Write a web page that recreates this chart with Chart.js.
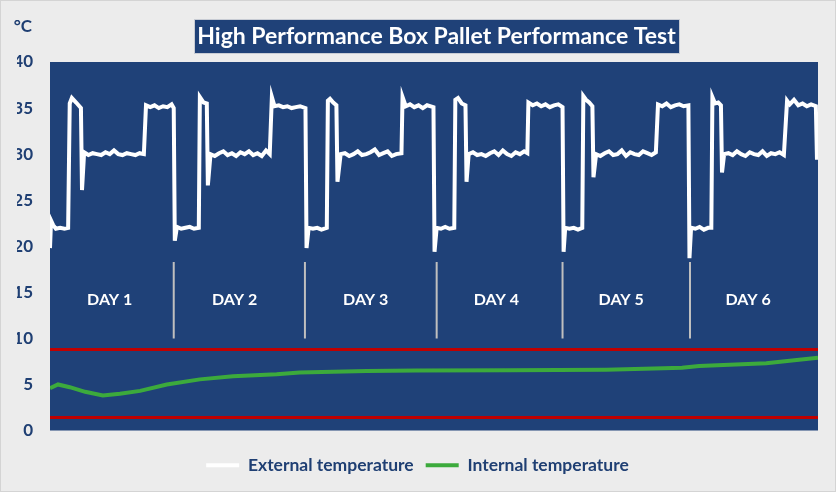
<!DOCTYPE html>
<html>
<head>
<meta charset="utf-8">
<script src="https://cdn.jsdelivr.net/npm/chart.js@4"></script>
<style>
  html, body { margin: 0; padding: 0; background: #ececec; }
  #wrap { position: relative; width: 834px; height: 490px; border: 1px solid #d4d4d4; background: #ececec; }
</style>
</head>
<body>
<div id="wrap"><canvas id="chart"></canvas></div>
<script>
// --- data (x = hours since start, y = °C) ---
const titleText = 'High Performance Box Pallet Performance Test';
const unitLabel = '°C';
const yTicks = [0, 5, 10, 15, 20, 25, 30, 35, 40];

const extHours = [
  0.0, 0.2, 0.6, 1.1, 1.9, 2.7, 3.4, 3.7, 4.1, 4.9, 5.8, 6.0, 6.4,
  7.2, 8.0, 8.8, 9.6, 10.4, 11.2, 12.0, 12.8, 13.6, 14.4, 15.2, 16.0, 16.8, 17.6,
  18.0, 18.8, 19.6, 20.4, 21.2, 22.0, 22.8, 23.2,
  23.4, 23.8, 24.6, 25.4, 26.2, 27.0, 27.9,
  28.1, 28.8, 29.4, 29.6, 30.1,
  30.9, 31.7, 32.5, 33.3, 34.1, 34.9, 35.7, 36.5, 37.3, 38.1, 38.9, 39.7, 40.5, 41.2,
  41.6, 42.1, 42.9, 43.7, 44.5, 45.3, 46.1, 46.9, 47.9,
  48.1, 48.5, 49.3, 50.1, 50.9, 51.9,
  52.1, 52.5, 53.1, 53.7, 53.9, 54.5,
  55.3, 56.1, 56.9, 57.7, 58.5, 59.3, 60.1, 60.9, 61.7, 62.5, 63.3, 64.1, 64.9, 65.9,
  66.1, 66.7, 67.5, 68.3, 69.1, 69.9, 70.7, 71.9,
  72.1, 72.5, 73.3, 74.1, 74.9, 75.8,
  76.0, 76.5, 77.2, 77.9, 78.1, 78.5,
  79.3, 80.1, 80.9, 81.7, 82.5, 83.3, 84.1, 84.9, 85.7, 86.5, 87.3, 88.1, 88.9, 89.5,
  89.7, 90.5, 91.3, 92.1, 92.9, 93.7, 94.5, 95.3, 96.1,
  96.3, 96.6, 97.4, 98.2, 99.0, 99.8,
  100.0, 100.5, 101.1, 101.7, 101.9, 102.4,
  103.2, 104.0, 104.8, 105.6, 106.4, 107.2, 108.0, 108.8, 109.6, 110.4, 111.2, 112.0, 112.8, 113.6,
  114.0, 114.8, 115.6, 116.4, 117.2, 118.0, 118.8, 119.7,
  119.9, 120.2, 121.0, 121.8, 122.6, 123.4, 124.0,
  124.2, 124.7, 125.3, 125.8, 126.0, 126.4,
  127.2, 128.0, 128.8, 129.6, 130.4, 131.2, 132.0, 132.8, 133.6, 134.4, 135.2, 136.0, 136.8, 137.6,
  138.2, 138.7, 139.5, 140.3, 141.1, 141.9, 142.7, 143.6,
  143.8, 144.0
];
const extTemps = [
  19.8, 22.8, 22.3, 21.9, 22.0, 21.9, 22.0, 35.5, 36.1, 35.6, 35.0, 26.1, 30.2,
  29.9, 30.1, 30.0, 29.9, 30.2, 30.0, 30.4, 30.0, 29.9, 30.1, 30.0, 29.9, 30.1, 30.0,
  35.3, 35.1, 35.3, 35.0, 35.2, 35.1, 35.4, 35.0,
  20.6, 22.1, 21.9, 22.0, 22.1, 21.9, 22.0,
  36.2, 35.6, 35.5, 26.6, 30.0,
  29.8, 30.1, 30.3, 29.9, 30.1, 29.8, 30.2, 30.0, 30.3, 29.9, 30.1, 29.8, 30.4, 30.0,
  36.2, 35.2, 35.3, 35.1, 35.2, 35.0, 35.1, 35.2, 35.0,
  19.8, 22.0, 21.9, 22.0, 21.8, 22.0,
  35.8, 36.0, 35.6, 35.3, 27.0, 30.0,
  30.1, 29.8, 30.0, 30.3, 29.9, 30.0, 30.2, 30.5, 29.9, 30.1, 30.3, 29.8, 30.0, 30.1,
  36.2, 35.2, 35.4, 35.1, 35.3, 35.0, 35.3, 35.1,
  19.4, 22.0, 21.9, 22.1, 21.9, 22.0,
  35.9, 36.1, 35.5, 35.3, 27.0, 30.0,
  30.2, 29.9, 30.0, 29.8, 30.1, 30.3, 29.9, 30.4, 30.0, 29.8, 30.2, 30.0, 30.3, 30.1,
  35.6, 35.3, 35.5, 35.2, 35.4, 35.1, 35.3, 35.4, 35.1,
  19.4, 22.0, 21.9, 22.0, 21.8, 22.0,
  36.3, 35.9, 35.6, 35.2, 27.5, 30.0,
  29.8, 30.1, 30.3, 29.9, 30.0, 30.4, 29.8, 30.2, 30.0, 29.9, 30.3, 30.1, 29.9, 30.2,
  35.4, 35.2, 35.5, 35.1, 35.3, 35.4, 35.2, 35.3,
  18.7, 22.0, 21.9, 22.1, 21.8, 22.0, 22.0,
  36.2, 35.5, 35.6, 35.3, 28.0, 30.0,
  30.1, 29.9, 30.3, 30.0, 29.8, 30.2, 30.0, 29.9, 30.3, 29.8, 30.1, 30.0, 30.2, 29.9,
  35.8, 35.4, 35.9, 35.3, 35.5, 35.2, 35.4, 35.2,
  29.6, 29.6
];

const intHours = [0, 1.5, 3.7, 6.6, 9.9, 13.1, 16.9, 21.9, 28.1, 34.3, 42.5, 46.8, 59.4, 68.7, 86.1, 104.3, 118.5, 121.7, 134.3, 144];
const intTemps = [4.6, 5.0, 4.7, 4.2, 3.8, 4.0, 4.3, 5.0, 5.55, 5.9, 6.1, 6.3, 6.45, 6.5, 6.55, 6.6, 6.8, 7.0, 7.3, 7.9];

const limitHigh = 8.8;
const limitLow = 1.4;

const dayNames = ['DAY 1', 'DAY 2', 'DAY 3', 'DAY 4', 'DAY 5', 'DAY 6'];
const dayCenters = [11.2, 34.6, 59.2, 83.7, 107.1, 130.9];
const dayLabelTemp = 14.2;
const dividerHours = [23.2, 47.8, 72.5, 96.1, 120.0];
const dividerRange = [10.0, 18.3];

// --- colours ---
const plotBlue = '#1f4178';
const textBlue = '#1f3f73';
const FONT = 'Lato, "Open Sans", sans-serif';

function toPoints(xs, ys) {
    return xs.map((x, i) => ({ x: x, y: ys[i] }));
}

// divider segments, separated by gaps
const dividerPoints = [];
dividerHours.forEach(h => {
    dividerPoints.push({ x: h, y: dividerRange[0] });
    dividerPoints.push({ x: h, y: dividerRange[1] });
    dividerPoints.push({ x: h, y: null });
});

// --- plugins ---
const backdrop = {
    id: 'backdrop',
    beforeDraw(chart) {
        const { ctx, chartArea: a } = chart;
        ctx.save();
        ctx.fillStyle = plotBlue;
        ctx.fillRect(a.left, a.top, a.right - a.left, a.bottom - a.top);
        ctx.restore();
    }
};

const dayLabels = {
    id: 'dayLabels',
    afterDatasetsDraw(chart) {
        const { ctx, scales } = chart;
        ctx.save();
        ctx.fillStyle = '#ffffff';
        ctx.font = 'bold 16px ' + FONT;
        ctx.textAlign = 'center';
        ctx.textBaseline = 'middle';
        dayNames.forEach((name, i) => {
            ctx.fillText(name, scales.x.getPixelForValue(dayCenters[i]), scales.y.getPixelForValue(dayLabelTemp));
        });
        ctx.restore();
    }
};

const titleBox = {
    id: 'titleBox',
    afterDraw(chart) {
        const { ctx } = chart;
        ctx.save();
        ctx.fillStyle = plotBlue;
        ctx.fillRect(193, 18, 485, 34);
        ctx.strokeStyle = '#c8ccd4';
        ctx.lineWidth = 1;
        ctx.strokeRect(193.5, 18.5, 485, 34);
        ctx.fillStyle = '#ffffff';
        ctx.font = 'bold 23px ' + FONT;
        ctx.textAlign = 'center';
        ctx.textBaseline = 'middle';
        ctx.fillText(titleText, 435.5, 36);

        ctx.fillStyle = textBlue;
        ctx.font = 'bold 17px ' + FONT;
        ctx.textAlign = 'right';
        ctx.fillText(unitLabel, 31, 26);
        ctx.restore();
    }
};

new Chart(document.getElementById('chart'), {
    type: 'line',
    data: {
        datasets: [
            {
                label: 'External temperature',
                data: toPoints(extHours, extTemps),
                borderColor: '#ffffff',
                backgroundColor: '#ffffff',
                borderWidth: 4,
                pointRadius: 0,
                tension: 0,
                order: 1
            },
            {
                label: 'Internal temperature',
                data: toPoints(intHours, intTemps),
                borderColor: '#3caa3c',
                backgroundColor: '#3caa3c',
                borderWidth: 4,
                pointRadius: 0,
                tension: 0,
                order: 2
            },
            {
                label: 'upper limit',
                data: [{ x: 0, y: limitHigh }, { x: 144, y: limitHigh }],
                borderColor: '#c00000',
                borderWidth: 3,
                pointRadius: 0,
                order: 3
            },
            {
                label: 'lower limit',
                data: [{ x: 0, y: limitLow }, { x: 144, y: limitLow }],
                borderColor: '#c00000',
                borderWidth: 3,
                pointRadius: 0,
                order: 3
            },
            {
                label: 'day divider',
                data: dividerPoints,
                borderColor: '#bfbfbf',
                borderWidth: 2,
                pointRadius: 0,
                spanGaps: false,
                order: 4
            }
        ]
    },
    options: {
        responsive: true,
        maintainAspectRatio: false,
        animation: false,
        layout: { padding: { left: 16, right: 17, top: 61, bottom: 7 } },
        scales: {
            x: {
                type: 'linear',
                min: 0,
                max: 144,
                grid: { display: false },
                border: { display: false },
                ticks: { display: false },
                afterFit(scale) { scale.height = 14; }
            },
            y: {
                min: 0,
                max: 40,
                afterBuildTicks(scale) { scale.ticks = yTicks.map(v => ({ value: v })); },
                grid: { display: false, drawTicks: false },
                border: { display: false },
                ticks: {
                    padding: 17,
                    color: textBlue,
                    font: { family: FONT, size: 17, weight: 'bold' }
                },
                afterFit(scale) { scale.width = 33; }
            }
        },
        plugins: {
            legend: {
                position: 'bottom',
                labels: {
                    filter: item => item.text.indexOf('temperature') !== -1,
                    usePointStyle: true,
                    pointStyle: 'line',
                    pointStyleWidth: 33,
                    boxHeight: 17,
                    padding: 12,
                    color: textBlue,
                    font: { family: FONT, size: 17.5, weight: 'bold' }
                }
            },
            tooltip: { enabled: false }
        }
    },
    plugins: [backdrop, dayLabels, titleBox]
});
</script>
</body>
</html>
